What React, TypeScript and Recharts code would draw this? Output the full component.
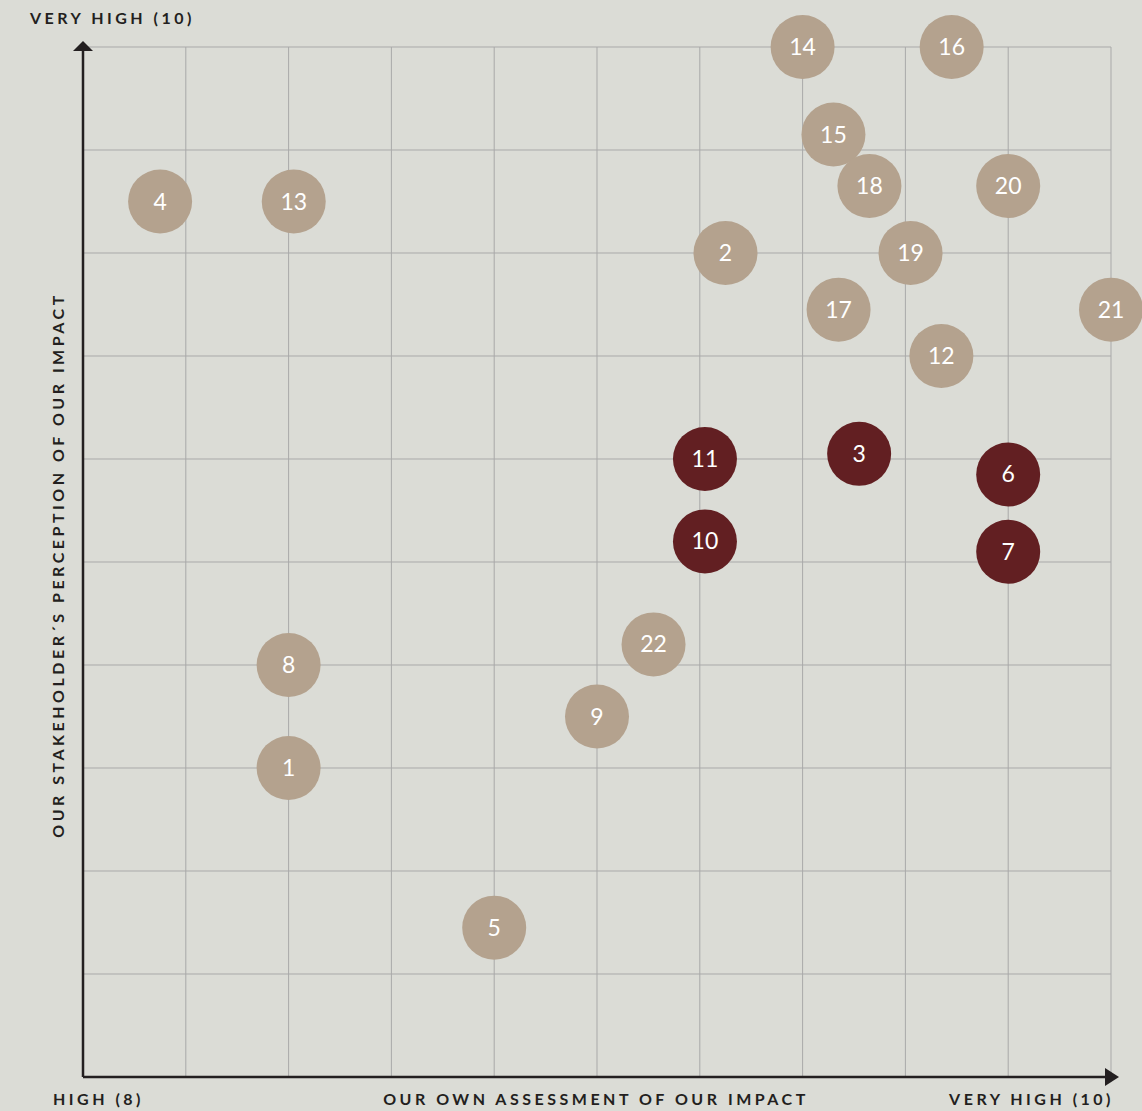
import React from 'react'
import {
  ScatterChart,
  Scatter,
  XAxis,
  YAxis,
  CartesianGrid,
  ReferenceDot,
} from 'recharts'

// topic numbers and where they sit on the matrix
const ids = [1, 2, 3, 4, 5, 6, 7, 8, 9, 10, 11, 12, 13, 14, 15, 16, 17, 18, 19, 20, 21, 22]
const ownAssessment = [
  8.4, 9.25, 9.51, 8.15, 8.8, 9.8, 9.8, 8.4, 9.0, 9.21, 9.21, 9.67, 8.41, 9.4, 9.46, 9.69, 9.47,
  9.53, 9.61, 9.8, 10.0, 9.11,
]
const stakeholderView = [
  8.6, 9.6, 9.21, 9.7, 8.29, 9.17, 9.02, 8.8, 8.7, 9.04, 9.2, 9.4, 9.7, 10.0, 9.83, 10.0, 9.49,
  9.73, 9.6, 9.73, 9.49, 8.84,
]
const highlighted = [3, 6, 7, 10, 11]
const ticks = [8, 8.2, 8.4, 8.6, 8.8, 9, 9.2, 9.4, 9.6, 9.8, 10]

const TAN = '#b4a28e'
const RED = '#621f22'
const INK = '#231f20'
const BG = '#dbdcd6'

const points = ids.map((id, i) => ({ id, x: ownAssessment[i], y: stakeholderView[i] }))
const tanPoints = points.filter((p) => !highlighted.includes(p.id))
const redPoints = points.filter((p) => highlighted.includes(p.id))

const bubble = (fill: string) => (props: any) => {
  const { cx, cy, payload } = props
  if (cx == null || cy == null) return <g />
  return (
    <g>
      <circle cx={cx} cy={cy} r={32} fill={fill} />
      <text
        x={cx}
        y={cy}
        dy={8}
        textAnchor="middle"
        fill="#fff"
        fontSize={23}
        fontFamily="Lato, 'Noto Sans', sans-serif"
      >
        {payload.id}
      </text>
    </g>
  )
}

// ticks must exist for the grid, but nothing is shown
const noTick = () => <g />

const labelStyle: React.CSSProperties = {
  position: 'absolute',
  fontFamily: "Lato, 'Noto Sans', sans-serif",
  fontWeight: 700,
  fontSize: 16,
  letterSpacing: 3.5,
  color: INK,
  whiteSpace: 'nowrap',
}

export default function App() {
  return (
    <div
      style={{
        position: 'absolute',
        left: 0,
        top: 0,
        width: 1142,
        height: 1111,
        background: BG,
        overflow: 'hidden',
      }}
    >
      <ScatterChart width={1142} height={1111} margin={{ top: 47, right: 31, bottom: 4, left: 3 }}>
        <CartesianGrid stroke="#a9a9a9" strokeWidth={1} />
        <XAxis
          type="number"
          dataKey="x"
          domain={[8, 10]}
          ticks={ticks}
          tick={noTick}
          tickLine={false}
          height={30}
          axisLine={{ stroke: INK, strokeWidth: 2.5 }}
        />
        <YAxis
          type="number"
          dataKey="y"
          domain={[8, 10]}
          ticks={ticks}
          tick={noTick}
          tickLine={false}
          width={80}
          axisLine={{ stroke: INK, strokeWidth: 2.5 }}
        />
        {/* arrow heads at the axis ends */}
        <ReferenceDot
          x={10}
          y={8}
          ifOverflow="visible"
          shape={(p: any) => (
            <path d={`M${p.cx - 6},${p.cy - 9} L${p.cx + 8},${p.cy} L${p.cx - 6},${p.cy + 9} Z`} fill={INK} />
          )}
        />
        <ReferenceDot
          x={8}
          y={10}
          ifOverflow="visible"
          shape={(p: any) => (
            <path d={`M${p.cx - 10},${p.cy + 4} L${p.cx},${p.cy - 6} L${p.cx + 10},${p.cy + 4} Z`} fill={INK} />
          )}
        />
        <Scatter data={tanPoints} shape={bubble(TAN)} isAnimationActive={false} />
        <Scatter data={redPoints} shape={bubble(RED)} isAnimationActive={false} />
      </ScatterChart>

      <div style={{ ...labelStyle, left: 30, top: 8 }}>VERY HIGH (10)</div>
      <div style={{ ...labelStyle, left: 53, top: 1089 }}>HIGH (8)</div>
      <div style={{ ...labelStyle, left: 596, top: 1089, transform: 'translateX(-50%)' }}>
        OUR OWN ASSESSMENT OF OUR IMPACT
      </div>
      <div style={{ ...labelStyle, right: 28, top: 1089 }}>VERY HIGH (10)</div>
      <div
        style={{
          ...labelStyle,
          left: 57,
          top: 565,
          transform: 'translate(-50%, -50%) rotate(-90deg)',
        }}
      >
        OUR STAKEHOLDER´S PERCEPTION OF OUR IMPACT
      </div>
    </div>
  )
}
